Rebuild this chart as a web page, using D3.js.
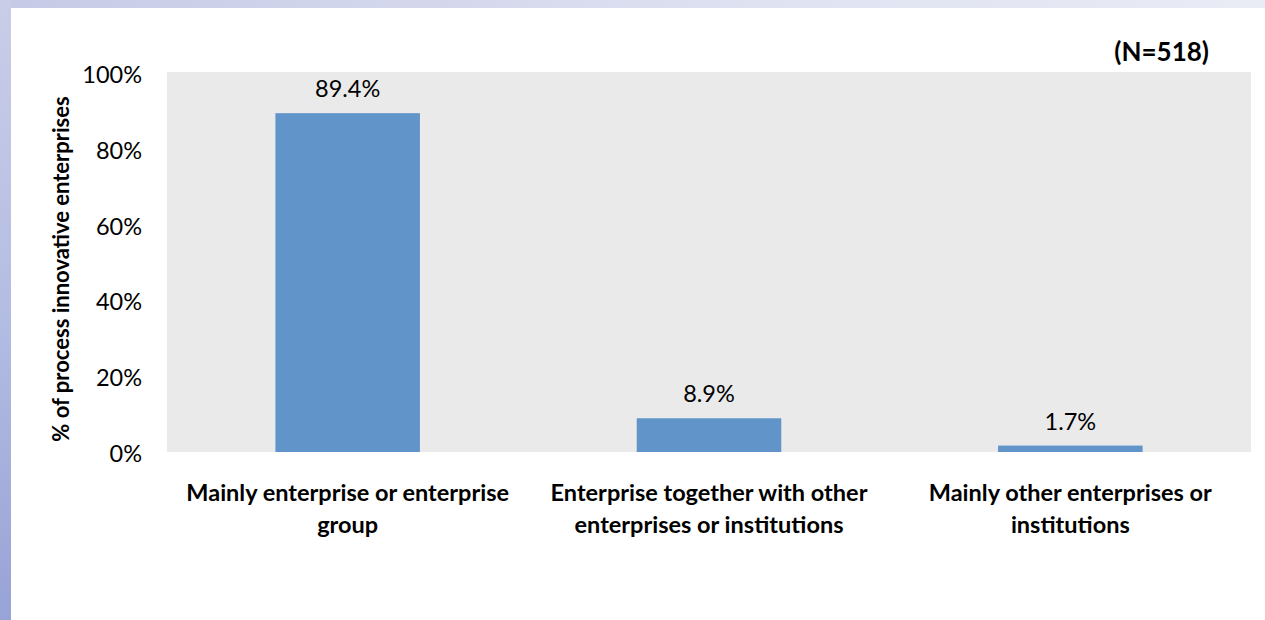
<!DOCTYPE html>
<html>
<head>
<meta charset="utf-8">
<script src="https://cdn.jsdelivr.net/npm/d3@7"></script>
<style>
  html, body { margin: 0; padding: 0; }
  body { width: 1265px; height: 620px; overflow: hidden; }
  text { font-family: Lato, "Open Sans", sans-serif; fill: #000; }
</style>
</head>
<body>
<svg id="chart" width="1265" height="620"></svg>
<script>
// Who developed the process innovations
const categories = [
  ["Mainly enterprise or enterprise", "group"],
  ["Enterprise together with other", "enterprises or institutions"],
  ["Mainly other enterprises or", "institutions"]
];
const shares = [89.4, 8.9, 1.7];
const yTicks = [0, 20, 40, 60, 80, 100];
const yTitle = "% of process innovative enterprises";
const sampleNote = "(N=518)";

const svg = d3.select("#chart");
const W = 1265, H = 620;

// slide-style backdrop: bluish frame with white card
const defs = svg.append("defs");
const g1 = defs.append("linearGradient").attr("id", "frame").attr("x1", 0).attr("y1", 0).attr("x2", 0).attr("y2", 1);
g1.append("stop").attr("offset", "0%").attr("stop-color", "#c9cde8");
g1.append("stop").attr("offset", "50%").attr("stop-color", "#b4bde2");
g1.append("stop").attr("offset", "100%").attr("stop-color", "#98a3d6");
const g2 = defs.append("linearGradient").attr("id", "topband").attr("x1", 0).attr("y1", 0).attr("x2", 1).attr("y2", 0);
g2.append("stop").attr("offset", "0%").attr("stop-color", "#c6cae6");
g2.append("stop").attr("offset", "60%").attr("stop-color", "#dfe2f1");
g2.append("stop").attr("offset", "100%").attr("stop-color", "#e9ebf5");

svg.append("rect").attr("width", W).attr("height", H).attr("fill", "url(#frame)");
svg.append("rect").attr("x", 11).attr("width", W - 11).attr("height", 8).attr("fill", "url(#topband)");
svg.append("rect").attr("x", 11).attr("y", 8).attr("width", W - 11).attr("height", H - 8).attr("fill", "#ffffff");

const plot = { left: 167, right: 1251, top: 72, bottom: 452 };

const x = d3.scaleBand()
  .domain(d3.range(categories.length))
  .range([plot.left, plot.right])
  .paddingInner(0.6)
  .paddingOuter(0.3);

const y = d3.scaleLinear().domain([0, 100]).range([plot.bottom, 73]);

// grey plot area
svg.append("rect")
  .attr("x", plot.left).attr("y", plot.top)
  .attr("width", plot.right - plot.left).attr("height", plot.bottom - plot.top)
  .attr("fill", "#eaeaea");

// y axis labels
const yAxis = d3.axisLeft(y).tickValues(yTicks).tickFormat(d => d + "%").tickSize(0).tickPadding(0);
const ya = svg.append("g").attr("transform", `translate(142,0)`).call(yAxis);
ya.select(".domain").remove();
ya.selectAll("text")
  .attr("font-family", "Lato, 'Open Sans', sans-serif")
  .attr("font-size", 23.5)
  .attr("fill", "#000")
  .attr("dy", "0.4em");

// bars
svg.append("g").selectAll("rect")
  .data(shares)
  .join("rect")
  .attr("x", (d, i) => x(i))
  .attr("y", d => y(d))
  .attr("width", x.bandwidth())
  .attr("height", d => y(0) - y(d))
  .attr("fill", "#6195c9");

// value labels
svg.append("g").selectAll("text")
  .data(shares)
  .join("text")
  .attr("x", (d, i) => x(i) + x.bandwidth() / 2)
  .attr("y", d => y(d) - 16)
  .attr("text-anchor", "middle")
  .attr("font-size", 23.5)
  .text(d => d.toFixed(1) + "%");

// category labels (two lines each)
const cat = svg.append("g").selectAll("text")
  .data(categories)
  .join("text")
  .attr("x", (d, i) => x(i) + x.bandwidth() / 2)
  .attr("y", 501)
  .attr("text-anchor", "middle")
  .attr("font-size", 23.5)
  .attr("font-weight", "bold");
cat.selectAll("tspan")
  .data(d => d)
  .join("tspan")
  .attr("x", function () { return d3.select(this.parentNode).attr("x"); })
  .attr("dy", (d, i) => i === 0 ? 0 : 32)
  .text(d => d);

// y axis title
svg.append("text")
  .attr("transform", `translate(69,${(plot.top + plot.bottom) / 2 + 7}) rotate(-90)`)
  .attr("text-anchor", "middle")
  .attr("font-size", 22)
  .attr("font-weight", "bold")
  .text(yTitle);

// sample size note
svg.append("text")
  .attr("x", 1209)
  .attr("y", 61)
  .attr("text-anchor", "end")
  .attr("font-size", 26)
  .attr("font-weight", "bold")
  .text(sampleNote);
</script>
</body>
</html>
